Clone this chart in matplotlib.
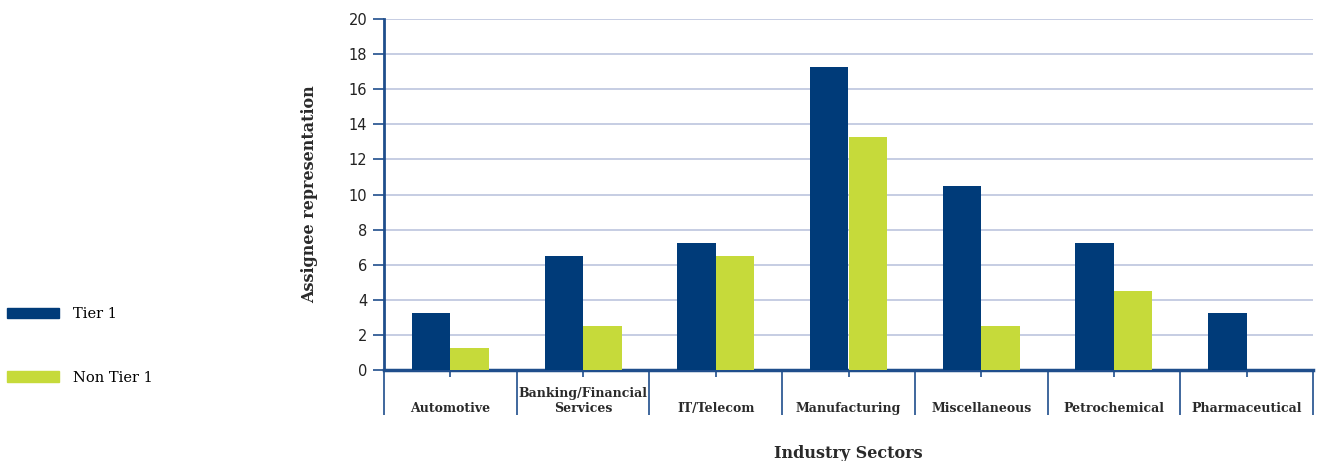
import numpy as np
import matplotlib
matplotlib.use('Agg')
from matplotlib import pyplot as plt
from matplotlib.patches import Patch

sectors = ['Automotive', 'Banking/Financial\nServices', 'IT/Telecom', 'Manufacturing',
           'Miscellaneous', 'Petrochemical', 'Pharmaceutical']
tier1 = [3.25, 6.5, 7.25, 17.25, 10.5, 7.25, 3.25]
non_tier1 = [1.25, 2.5, 6.5, 13.25, 2.5, 4.5, 0]
yticks = [0, 2, 4, 6, 8, 10, 12, 14, 16, 18, 20]

navy = '#003b79'
lime = '#c6da3a'
axis_col = '#1f4e8c'
grid_col = '#bcc5de'
serif = 'DejaVu Serif'

fig = plt.figure(figsize=(13.2, 4.61), dpi=100)
ax = fig.add_axes([384/1320, 1-370/461, 929/1320, 351/461])

x = np.arange(len(sectors))
w = 0.29
ax.bar(x - w/2, tier1, w, color=navy, zorder=3)
ax.bar(x + w/2, non_tier1, w, color=lime, zorder=3)

ax.set_xlim(-0.5, len(sectors) - 0.5)
ax.set_ylim(0, 20)
ax.set_yticks(yticks)
ax.yaxis.grid(True, color=grid_col, lw=1.2, zorder=0)
ax.tick_params(axis='y', length=8, width=1.2, color=axis_col, labelsize=10.5, pad=4)
for lab in ax.get_yticklabels():
    lab.set_color('#222222')

ax.set_xticks(x)
ax.set_xticklabels([])
ax.tick_params(axis='x', length=5, width=1.2, color=axis_col, direction='out')

for s in ['top', 'right']:
    ax.spines[s].set_visible(False)
ax.spines['left'].set_color(axis_col)
ax.spines['left'].set_linewidth(2)
ax.spines['bottom'].set_color(axis_col)
ax.spines['bottom'].set_linewidth(2.5)

# category separators below the axis
trans = ax.get_xaxis_transform()
bounds = np.arange(len(sectors) + 1) - 0.5
ax.vlines(bounds, -0.128, 0, transform=trans, color=axis_col, lw=1.2, clip_on=False)

for xi, name in zip(x, sectors):
    ax.text(xi, -0.128, name, transform=trans, ha='center', va='bottom',
            family=serif, fontweight='bold', fontsize=9, color='#2a2a2a',
            linespacing=1.2)

ax.set_ylabel('Assignee representation', family=serif, fontweight='bold',
              fontsize=11.5, color='#2a2a2a', labelpad=22)
fig.text(848/1320, 1-462/461, 'Industry Sectors', ha='center', va='bottom',
         family=serif, fontweight='bold', fontsize=11.5, color='#2a2a2a')

handles = [Patch(color=navy), Patch(color=lime)]
fig.legend(handles, ['Tier 1', 'Non Tier 1'], loc='upper left',
           bbox_to_anchor=(-0.005, 1-294/461), frameon=False,
           prop={'family': serif, 'size': 10.5}, handlelength=3.6,
           handleheight=0.7, labelspacing=3.4, handletextpad=0.95)

fig.savefig('out.png', dpi=100)
